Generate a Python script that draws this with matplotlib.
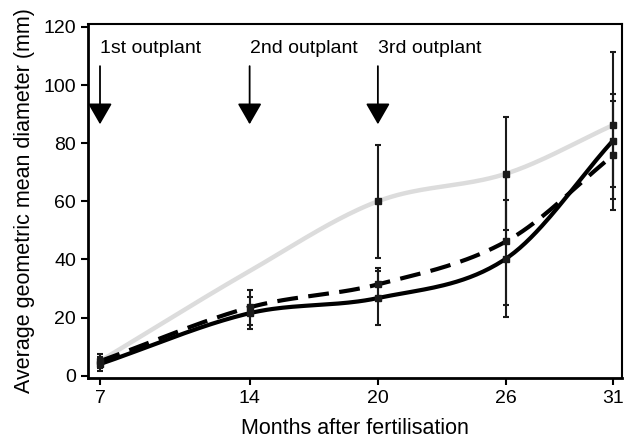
import numpy as np
import matplotlib
matplotlib.use("Agg")
import matplotlib.pyplot as plt

plt.rcParams["font.family"] = ["Liberation Sans", "DejaVu Sans"]

months = [7, 14, 20, 26, 31]

# grey series
grey_y = [5, 36, 60, 69.5, 86.2]
grey_err = [0, 0, 19.5, 19.5, 25.3]
# solid black series
solid_y = [4, 21.5, 26.7, 40.3, 80.9]
solid_err = [2.5, 5.5, 9.3, 20, 15.9]
# dashed series
dash_y = [5, 23.5, 31.4, 46.2, 75.8]
dash_err = [2.5, 6, 5.6, 22, 18.8]

outplants = [7, 14, 20]
outplant_labels = ["1st outplant", "2nd outplant", "3rd outplant"]


def smooth(x, y, n=40):
    # catmull-rom style hermite curve through the points
    x = np.asarray(x, float)
    y = np.asarray(y, float)
    m = np.empty_like(y)
    m[1:-1] = (y[2:] - y[:-2]) / (x[2:] - x[:-2])
    m[0] = (y[1] - y[0]) / (x[1] - x[0])
    m[-1] = (y[-1] - y[-2]) / (x[-1] - x[-2])
    xs, ys = [], []
    for i in range(len(x) - 1):
        h = x[i + 1] - x[i]
        t = np.linspace(0, 1, n)
        h00 = 2 * t**3 - 3 * t**2 + 1
        h10 = t**3 - 2 * t**2 + t
        h01 = -2 * t**3 + 3 * t**2
        h11 = t**3 - t**2
        xs.append(x[i] + t * h)
        ys.append(h00 * y[i] + h10 * h * m[i] + h01 * y[i + 1] + h11 * h * m[i + 1])
    return np.concatenate(xs), np.concatenate(ys)


fig = plt.figure(figsize=(6.27, 4.42), dpi=100)
ax = fig.add_axes([0.1404, 0.1448, 0.8516, 0.8009])

xs, ys = smooth(months, grey_y)
ax.plot(xs, ys, color="#dcdcdc", linewidth=3.2, zorder=2)
xs, ys = smooth(months, solid_y)
ax.plot(xs, ys, color="black", linewidth=3.0, zorder=3)
xs, ys = smooth(months, dash_y)
ax.plot(xs, ys, color="black", linewidth=3.0, dashes=(5, 2.5), zorder=3)

ax.errorbar(months[2:], grey_y[2:], yerr=grey_err[2:], fmt="s", color="#1a1a1a",
            ms=5, capsize=2.5, elinewidth=1.5, capthick=1.5, zorder=4)
ax.errorbar(months, solid_y, yerr=solid_err, fmt="s", color="#1a1a1a",
            ms=4.5, capsize=2.5, elinewidth=1.5, capthick=1.5, zorder=4)
ax.errorbar(months, dash_y, yerr=dash_err, fmt="s", color="#1a1a1a",
            ms=4.5, capsize=2.5, elinewidth=1.5, capthick=1.5, zorder=4)

for m, lab in zip(outplants, outplant_labels):
    ax.annotate("", xy=(m, 86.5), xytext=(m, 106.5),
                arrowprops=dict(arrowstyle="-|>,head_width=0.75,head_length=1.3",
                                color="black", lw=1.3, shrinkA=0, shrinkB=0))
    ax.text(m, 112.5, lab, fontsize=14, ha="left", va="center")

ax.set_xlim(6.44, 31.42)
ax.set_ylim(-0.8, 121)
ax.set_xticks(months)
ax.set_yticks([0, 20, 40, 60, 80, 100, 120])
ax.tick_params(direction="out", length=5, width=1.5, labelsize=14)
for s in ["left", "bottom"]:
    ax.spines[s].set_linewidth(2)
for s in ["top", "right"]:
    ax.spines[s].set_linewidth(1.5)
ax.set_xlabel("Months after fertilisation", fontsize=15.5, labelpad=8)
ax.set_ylabel("Average geometric mean diameter (mm)", fontsize=15.5, labelpad=6)

fig.savefig("out.png", dpi=100)
